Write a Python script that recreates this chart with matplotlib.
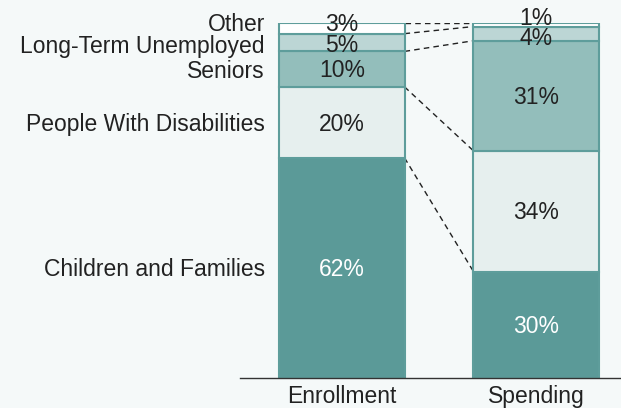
import numpy as np
import matplotlib.pyplot as plt

plt.rcParams['font.family'] = ['Liberation Sans', 'DejaVu Sans']

# data
bars = ["Enrollment", "Spending"]
categories = ["Children and Families", "People With Disabilities", "Seniors",
              "Long-Term Unemployed", "Other"]
enrollment = [62, 20, 10, 5, 3]
spending = [30, 34, 31, 4, 1]
colors = ["#5b9a98", "#e6efee", "#93bebb", "#bcd6d5", "#ffffff"]
text_colors = ["white", "#222222", "#222222", "#222222", "#222222"]

bg = "#f5f9f9"
edge = "#5e9d9b"
fs = 16.5

fig = plt.figure(figsize=(6.21, 4.08), dpi=100, facecolor=bg)
ax = fig.add_axes([240 / 621, 30 / 408, 381 / 621, 355 / 408])
ax.set_facecolor(bg)

x = np.arange(len(bars))
width = 0.645
series = [enrollment, spending]

for i, vals in enumerate(series):
    bottoms = np.concatenate([[0], np.cumsum(vals)[:-1]])
    ax.bar([x[i]] * len(vals), vals, bottom=bottoms, width=width, color=colors,
           edgecolor=edge, linewidth=1.5, zorder=2)

# percent labels, small top segments nudged so they don't collide
pct_offsets = [[-0.5, -0.5, -0.5, -0.9, 1.0], [-0.5, -0.5, -0.5, -1.5, 1.9]]
for i, vals in enumerate(series):
    bottoms = np.concatenate([[0], np.cumsum(vals)[:-1]])
    for j, v in enumerate(vals):
        ax.text(x[i], bottoms[j] + v / 2 + pct_offsets[i][j], f"{v}%",
                ha="center", va="center", fontsize=fs, color=text_colors[j], zorder=4)

# category labels on the left
bottoms = np.concatenate([[0], np.cumsum(enrollment)[:-1]])
cat_offsets = [-0.5, -0.5, -0.7, -1.2, 1.1]
for j, name in enumerate(categories):
    ax.text(-0.397, bottoms[j] + enrollment[j] / 2 + cat_offsets[j], name,
            ha="right", va="center", fontsize=fs, color="#222222", clip_on=False)

# dashed connectors between segment boundaries
cum_e = np.cumsum(enrollment)
cum_s = np.cumsum(spending)
for a, b in zip(cum_e[:-1], cum_s[:-1]):
    ax.plot([x[0] + width / 2, x[1] - width / 2], [a, b], color="#222222",
            linestyle=(0, (4, 3)), linewidth=1, zorder=1)
ax.plot([x[0] + width / 2, x[1] - width / 2], [100, 100], color="#222222",
        linestyle=(0, (4, 3)), linewidth=1, zorder=1)

ax.set_xlim(-102 / 194, 1 + 85 / 194)
ax.set_ylim(0, 100)
ax.set_xticks(x)
ax.set_xticklabels(bars, fontsize=fs, color="#222222")
ax.tick_params(axis="x", length=0, pad=5)
ax.set_yticks([])
for s in ["top", "right", "left"]:
    ax.spines[s].set_visible(False)
ax.spines["bottom"].set_color("#333333")
ax.spines["bottom"].set_linewidth(1)

fig.savefig("out.png", dpi=100, facecolor=bg)
